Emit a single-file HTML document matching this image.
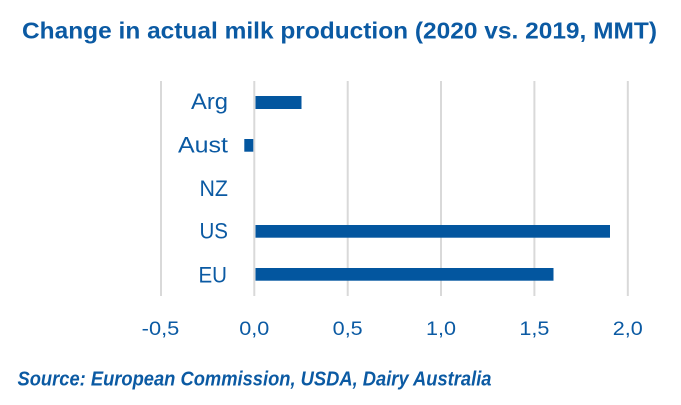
<!DOCTYPE html>
<html>
<head>
<meta charset="utf-8">
<style>
  html, body { margin: 0; padding: 0; background: #ffffff; }
  svg { display: block; }
  text { font-family: "Liberation Sans", sans-serif; fill: #0b5aa3; }
</style>
</head>
<body>
<svg width="681" height="405" viewBox="0 0 681 405" xmlns="http://www.w3.org/2000/svg">
  <rect x="0" y="0" width="681" height="405" fill="#ffffff"/>
  <!-- Title -->
  <text x="22" y="38.5" font-size="23.5" font-weight="bold" textLength="635" lengthAdjust="spacingAndGlyphs">Change in actual milk production (2020 vs. 2019, MMT)</text>

  <!-- Gridlines -->
  <g stroke="#d9d9d9" stroke-width="2">
    <line x1="161" y1="81" x2="161" y2="296"/>
    <line x1="254.3" y1="81" x2="254.3" y2="296"/>
    <line x1="347.7" y1="81" x2="347.7" y2="296"/>
    <line x1="441" y1="81" x2="441" y2="296"/>
    <line x1="534.4" y1="81" x2="534.4" y2="296"/>
    <line x1="627.8" y1="81" x2="627.8" y2="296"/>
  </g>

  <!-- Bars -->
  <g fill="#03569f">
    <rect x="255.5" y="96" width="46" height="13"/>
    <rect x="244.3" y="139" width="9" height="12.7"/>
    <rect x="255.5" y="225" width="354.5" height="12.7"/>
    <rect x="255.5" y="268" width="298" height="12.7"/>
  </g>

  <!-- Category labels -->
  <g font-size="22.5" text-anchor="end">
    <text x="228" y="109" textLength="37" lengthAdjust="spacingAndGlyphs">Arg</text>
    <text x="228" y="152.3" textLength="50" lengthAdjust="spacingAndGlyphs">Aust</text>
    <text x="228" y="196" textLength="28.5" lengthAdjust="spacingAndGlyphs">NZ</text>
    <text x="228" y="238.5" textLength="28.5" lengthAdjust="spacingAndGlyphs">US</text>
    <text x="227" y="282.3" textLength="28.5" lengthAdjust="spacingAndGlyphs">EU</text>
  </g>

  <!-- Tick labels -->
  <g font-size="19.5">
    <text x="141.7" y="335" textLength="37.6" lengthAdjust="spacingAndGlyphs">-0,5</text>
    <text x="239.3" y="335" textLength="30" lengthAdjust="spacingAndGlyphs">0,0</text>
    <text x="332.7" y="335" textLength="30" lengthAdjust="spacingAndGlyphs">0,5</text>
    <text x="426" y="335" textLength="30" lengthAdjust="spacingAndGlyphs">1,0</text>
    <text x="519.4" y="335" textLength="30" lengthAdjust="spacingAndGlyphs">1,5</text>
    <text x="612.8" y="335" textLength="30" lengthAdjust="spacingAndGlyphs">2,0</text>
  </g>

  <!-- Source -->
  <text x="17.5" y="385.7" font-size="20.5" font-weight="bold" font-style="italic" textLength="474" lengthAdjust="spacingAndGlyphs">Source: European Commission, USDA, Dairy Australia</text>
</svg>
</body>
</html>
